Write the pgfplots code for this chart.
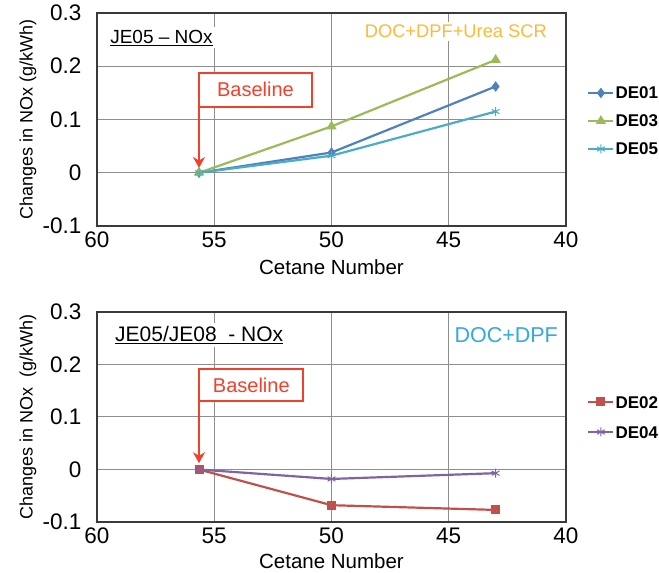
\documentclass[border=0pt]{standalone}
\usepackage{fontspec}
\setmainfont{Liberation Sans}
\usepackage{pgfplots}
\pgfplotsset{compat=1.18}
\usetikzlibrary{arrows.meta}
\definecolor{frame}{HTML}{3A3A3A}
\definecolor{gridc}{HTML}{8E8E8E}
\definecolor{c01}{HTML}{4F81BD}
\definecolor{c03}{HTML}{9BBB59}
\definecolor{c05}{HTML}{4BACC6}
\definecolor{c02}{HTML}{C0504D}
\definecolor{c04}{HTML}{8064A2}
\definecolor{basered}{HTML}{F2412B}
\definecolor{orangetxt}{HTML}{FDB93A}
\definecolor{bluetxt}{HTML}{33AADF}
\pgfplotsset{myaxis/.style={
  scale only axis, width=469pt,
  xmin=40, xmax=60, x dir=reverse, ymin=-0.1, ymax=0.3,
  xtick={40,45,50,55,60}, xticklabels={40,45,50,55,60},
  ytick={-0.1,0,0.1,0.2,0.3}, yticklabels={-0.1,0,0.1,0.2,0.3},
  grid=major, major grid style={draw=gridc, line width=1pt}, major tick length=0pt,
  axis line style={draw=frame, line width=2.2pt},
  tick label style={font=\fontsize{22.5}{24}\selectfont},
  xticklabel style={anchor=north, yshift=-2pt},
  yticklabel style={anchor=east, xshift=-12pt},
  xlabel={Cetane Number},
  xlabel style={font=\fontsize{20.5}{22}\selectfont, at={(axis description cs:0.5,0)}, anchor=center, yshift=-41pt},
  ylabel style={font=\fontsize{18}{20}\selectfont, at={(axis description cs:-0.147,0.5)}, anchor=center},
  legend style={draw=none, fill=none, anchor=west, inner sep=0pt,
     font=\fontsize{17}{18}\selectfont\bfseries,
     nodes={inner sep=1pt, text height=12pt, text depth=0pt, anchor=west}},
  legend cell align=left,
  legend image code/.code={\draw[mark repeat=2, mark phase=2] plot coordinates {(0pt,0pt)(12.5pt,0pt)(25pt,0pt)};},
  every axis plot/.append style={line width=2.2pt, mark options={solid, line width=1pt}},
}}
\begin{document}
\begin{tikzpicture}
\useasboundingbox (0,0) rectangle (659pt,573pt);
% top panel
\begin{axis}[myaxis, at={(97pt,347pt)}, anchor=south west, height=213pt,
  ylabel={Changes in NOx (g/kWh)},
  legend style={at={(axis description cs:1.045,0.493)}, row sep=14pt}]
\addplot[color=c01, mark=diamond*, mark size=4.5pt] coordinates {(55.65,0) (50,0.038) (43,0.162)};
\addlegendentry{DE01}
\addplot[color=c03, mark=triangle*, mark size=5pt] coordinates {(55.65,0) (50,0.087) (43,0.212)};
\addlegendentry{DE03}
\addplot[color=c05, mark=asterisk, mark size=4.5pt] coordinates {(55.65,0) (50,0.032) (43,0.115)};
\addlegendentry{DE05}
\node[fill=white, inner sep=3pt, anchor=west, font=\fontsize{19}{20}\selectfont] at (axis cs:59.57,0.2535) {\underline{JE05 – NOx}};
\node[fill=white, inner sep=3pt, anchor=east, text=orangetxt, font=\fontsize{18.3}{20}\selectfont] at (axis cs:40.68,0.265) {DOC+DPF+Urea SCR};
\draw[basered, line width=2.2pt, fill=white] (axis cs:55.65,0.188) rectangle (axis cs:50.83,0.124);
\node[text=basered, font=\fontsize{20}{20}\selectfont] at (axis cs:53.24,0.156) {Baseline};
\draw[basered, line width=2.2pt, -{Stealth[length=11pt,width=12pt]}] (axis cs:55.65,0.188) -- (axis cs:55.65,0.009);
\end{axis}
% bottom panel
\begin{axis}[myaxis, at={(97pt,51pt)}, anchor=south west, height=210pt,
  ylabel={Changes in NOx\ \ (g/kWh)},
  xlabel style={yshift=2pt},
  legend style={at={(axis description cs:1.045,0.5)}, row sep=16pt}]
\addplot[color=c02, mark=square*, mark size=4pt] coordinates {(55.65,0) (50,-0.068) (43,-0.077)};
\addlegendentry{DE02}
\addplot[color=c04, mark=asterisk, mark size=4.5pt] coordinates {(55.65,0) (50,-0.018) (43,-0.007)};
\addlegendentry{DE04}
\node[fill=white, inner sep=3pt, anchor=west, font=\fontsize{21}{22}\selectfont] at (axis cs:59.36,0.256) {\underline{JE05/JE08\ \ - NOx}};
\node[fill=white, inner sep=3pt, anchor=east, text=bluetxt, font=\fontsize{21.5}{22}\selectfont] at (axis cs:40.21,0.256) {DOC+DPF};
\draw[basered, line width=2.2pt, fill=white] (axis cs:55.65,0.191) rectangle (axis cs:51.2,0.130);
\node[text=basered, font=\fontsize{20}{20}\selectfont] at (axis cs:53.42,0.1605) {Baseline};
\draw[basered, line width=2.2pt, -{Stealth[length=11pt,width=12pt]}] (axis cs:55.65,0.191) -- (axis cs:55.65,0.012);
\end{axis}
\end{tikzpicture}
\end{document}
